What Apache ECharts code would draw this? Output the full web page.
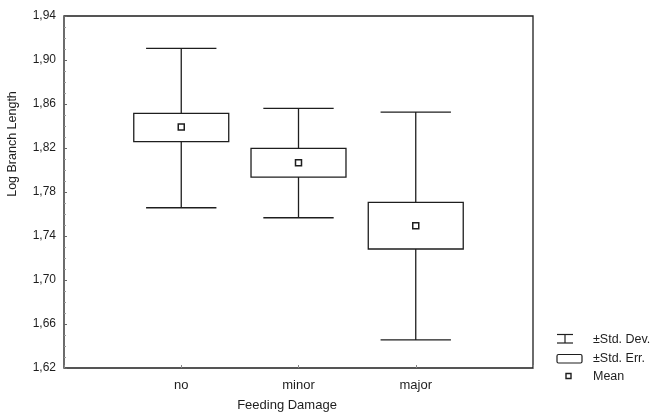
<!DOCTYPE html>
<html><head><meta charset="utf-8">
<script src="https://cdn.jsdelivr.net/npm/echarts@6/dist/echarts.min.js"></script>
<style>html,body{margin:0;padding:0;background:#fff}#c{width:654px;height:414px}</style>
</head><body><div id="c"></div>
<script>
var categories = ['no', 'minor', 'major'];
var means   = [1.839, 1.8067, 1.7494];
var seLow   = [1.8258, 1.7936, 1.7282];
var seHigh  = [1.8515, 1.8197, 1.7706];
var sdLow   = [1.7657, 1.7566, 1.6455];
var sdHigh  = [1.9106, 1.8561, 1.8527];
var yTicks  = [1.62, 1.66, 1.70, 1.74, 1.78, 1.82, 1.86, 1.90, 1.94];

var font = 'Liberation Sans, Arial, sans-serif';
var ink = '#1e1e1e';
var data = categories.map(function (c, i) {
  return [i + 1, means[i], seLow[i], seHigh[i], sdLow[i], sdHigh[i]];
});

function renderItem(params, api) {
  var x = api.value(0);
  var pMean = api.coord([x, api.value(1)]);
  var pSeL = api.coord([x, api.value(2)]);
  var pSeH = api.coord([x, api.value(3)]);
  var pSdL = api.coord([x, api.value(4)]);
  var pSdH = api.coord([x, api.value(5)]);
  var boxW = api.size([0.81, 0])[0];
  var capW = api.size([0.6, 0])[0];
  var cx = pMean[0];
  var ls = {stroke: ink, lineWidth: 1.3, fill: null};
  return {
    type: 'group',
    children: [
      {type: 'line', shape: {x1: cx, y1: pSdH[1], x2: cx, y2: pSeH[1]}, style: ls},
      {type: 'line', shape: {x1: cx, y1: pSeL[1], x2: cx, y2: pSdL[1]}, style: ls},
      {type: 'line', shape: {x1: cx - capW / 2, y1: pSdH[1], x2: cx + capW / 2, y2: pSdH[1]}, style: ls},
      {type: 'line', shape: {x1: cx - capW / 2, y1: pSdL[1], x2: cx + capW / 2, y2: pSdL[1]}, style: ls},
      {type: 'rect', shape: {x: cx - boxW / 2, y: pSeH[1], width: boxW, height: pSeL[1] - pSeH[1]}, style: {stroke: ink, lineWidth: 1.3, fill: '#fff'}},
      {type: 'rect', shape: {x: cx - 3, y: pMean[1] - 3, width: 6, height: 6}, style: {stroke: ink, lineWidth: 1.5, fill: '#fff'}}
    ]
  };
}

var chart = echarts.init(document.getElementById('c'), null, {renderer: 'canvas'});
var lx = 557;
chart.setOption({
  backgroundColor: '#fff',
  animation: false,
  grid: {left: 64, top: 16, right: 121, bottom: 46, show: true, borderColor: ink, borderWidth: 1.3},
  xAxis: {
    type: 'value', min: 0, max: 4, interval: 1,
    axisLine: {show: false}, splitLine: {show: false},
    axisTick: {show: true, inside: true, length: 3, lineStyle: {color: '#888'}},
    axisLabel: {
      color: ink, fontFamily: font, fontSize: 13, margin: 11,
      formatter: function (v) { return categories[v - 1] || ''; }
    }
  },
  yAxis: {
    type: 'value', min: yTicks[0], max: yTicks[yTicks.length - 1], interval: 0.04,
    axisLine: {show: false}, splitLine: {show: false},
    axisTick: {show: true, inside: true, length: 3, lineStyle: {color: '#666'}},
    minorTick: {show: true, splitNumber: 4, length: 2, lineStyle: {color: '#999'}},
    axisLabel: {
      color: ink, fontFamily: font, fontSize: 12, margin: 8,
      formatter: function (v) { return v.toFixed(2).replace('.', ','); }
    }
  },
  series: [{
    type: 'custom', renderItem: renderItem, data: data,
    encode: {x: 0, y: [1, 2, 3, 4, 5]}, clip: false
  }],
  graphic: [
    {type: 'text', x: 13, y: 144, rotation: Math.PI / 2,
      style: {text: 'Log Branch Length', fill: ink, font: '12.5px ' + font, align: 'center', verticalAlign: 'middle'}},
    {type: 'text', x: 287, y: 405,
      style: {text: 'Feeding Damage', fill: ink, font: '13px ' + font, align: 'center', verticalAlign: 'middle'}},
    {type: 'line', shape: {x1: lx, y1: 334.5, x2: lx + 16, y2: 334.5}, style: {stroke: ink, lineWidth: 1.2}},
    {type: 'line', shape: {x1: lx, y1: 343, x2: lx + 16, y2: 343}, style: {stroke: ink, lineWidth: 1.2}},
    {type: 'line', shape: {x1: lx + 8, y1: 334.5, x2: lx + 8, y2: 343}, style: {stroke: ink, lineWidth: 1.2}},
    {type: 'text', x: 593, y: 340, style: {text: '±Std. Dev.', fill: ink, font: '12.5px ' + font, verticalAlign: 'middle'}},
    {type: 'rect', shape: {x: lx, y: 354.5, width: 25, height: 8.5, r: 1.5}, style: {stroke: ink, lineWidth: 1.2, fill: '#fff'}},
    {type: 'text', x: 593, y: 359, style: {text: '±Std. Err.', fill: ink, font: '12.5px ' + font, verticalAlign: 'middle'}},
    {type: 'rect', shape: {x: 566, y: 373.5, width: 5, height: 5}, style: {stroke: ink, lineWidth: 1.4, fill: '#fff'}},
    {type: 'text', x: 593, y: 377, style: {text: 'Mean', fill: ink, font: '12.5px ' + font, verticalAlign: 'middle'}}
  ]
});
</script></body></html>
